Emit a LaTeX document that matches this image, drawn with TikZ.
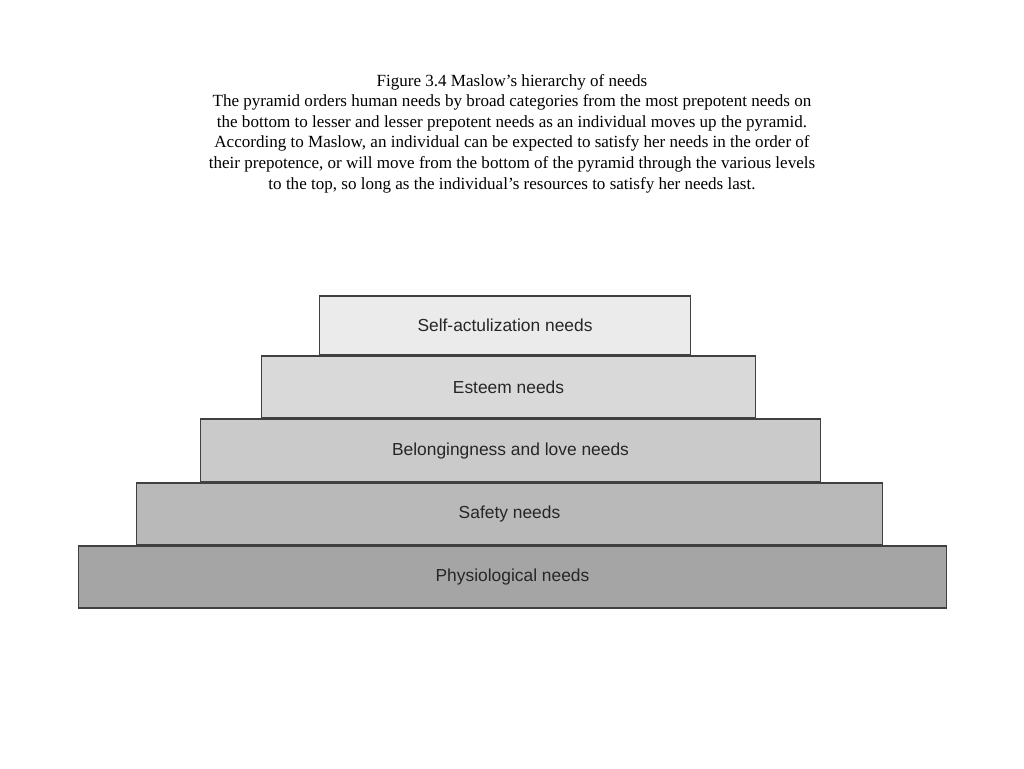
\documentclass[tikz,border=0pt]{standalone}
\usepackage{fontspec}
\setmainfont{Liberation Serif}
\newfontfamily\boxfont{Liberation Sans}
\usepackage{xcolor}
\usepackage{tikz}
\usetikzlibrary{positioning}

\definecolor{lvlA}{HTML}{EBEBEB}
\definecolor{lvlB}{HTML}{D9D9D9}
\definecolor{lvlC}{HTML}{CACACA}
\definecolor{lvlD}{HTML}{B9B9B9}
\definecolor{lvlE}{HTML}{A5A5A5}

\begin{document}
\begin{tikzpicture}[
  x=0.02cm, y=-0.02cm,
  level/.style={rectangle, draw=black!75, line width=0.6pt, inner sep=0pt,
    outer sep=0pt, font=\boxfont\fontsize{9.9}{12}\selectfont, text=black!85},
  caption/.style={align=center, font=\fontsize{9.7}{11.7}\selectfont}
]
  \useasboundingbox (0,0) rectangle (1024,768);

  \node[caption] (title) at (512,133.5) {Figure 3.4 Maslow’s hierarchy of needs\\
    The pyramid orders human needs by broad categories from the most prepotent needs on\\
    the bottom to lesser and lesser prepotent needs as an individual moves up the pyramid.\\
    According to Maslow, an individual can be expected to satisfy her needs in the order of\\
    their prepotence, or will move from the bottom of the pyramid through the various levels\\
    to the top, so long as the individual’s resources to satisfy her needs last.};

  % pyramid, bottom to top
  \node[level, fill=lvlE, minimum width=17.38cm, minimum height=1.24cm] (phys) at (512.5,577) {Physiological needs};
  \node[level, fill=lvlD, minimum width=14.94cm, minimum height=1.24cm] (safety) at (509.5,514) {Safety needs};
  \node[level, fill=lvlC, minimum width=12.42cm, minimum height=1.26cm] (love) at (510.5,450.5) {Belongingness and love needs};
  \node[level, fill=lvlB, minimum width=9.9cm, minimum height=1.24cm] (esteem) at (508.5,387) {Esteem needs};
  \node[level, fill=lvlA, minimum width=7.44cm, minimum height=1.18cm] (self) at (505,325.5) {Self-actulization needs};
\end{tikzpicture}
\end{document}
